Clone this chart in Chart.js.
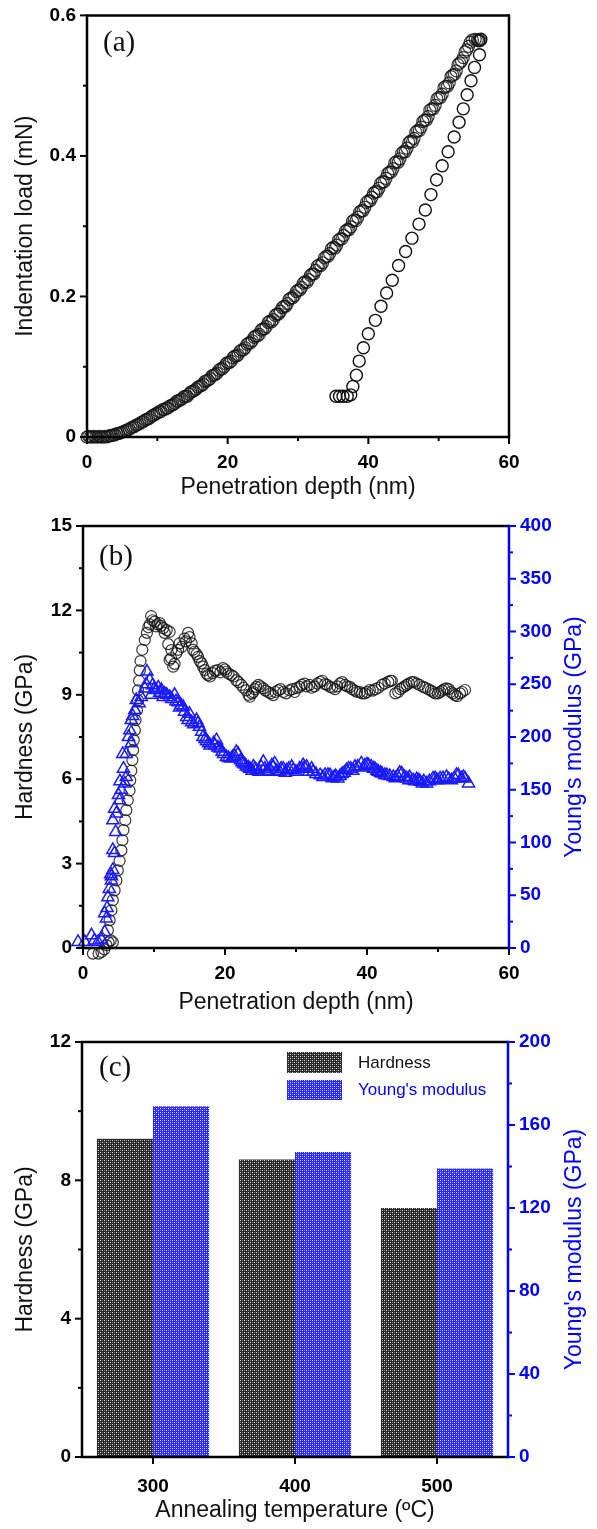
<!DOCTYPE html>
<html><head><meta charset="utf-8">
<script src="https://cdn.jsdelivr.net/npm/chart.js@4.4.1/dist/chart.umd.min.js"></script>
<style>
body{margin:0;background:#fff;width:597px;height:1529px;position:relative;overflow:hidden}
canvas{position:absolute;left:0}
</style></head>
<body>
<canvas id="ca" width="597" height="505" style="top:0px;width:597px;height:505px"></canvas>
<canvas id="cb" width="597" height="515" style="top:505px;width:597px;height:515px"></canvas>
<canvas id="cc" width="597" height="509" style="top:1020px;width:597px;height:509px"></canvas>
<script>
// ---------- Panel (a): load-depth ----------
const loadX = [0,0.25,0.5,0.75,1,1.25,1.5,1.75,2,2.25,2.5,2.75,3,3.25,3.5,3.75,4,4.25,4.5,4.75,5,5.25,5.5,5.75,6,6.25,6.5,6.75,7,7.25,7.5,7.75,8,8.25,8.5,8.75,9,9.25,9.5,9.75,
10,10.25,10.5,10.75,11,11.25,11.5,11.75,12,12.25,12.5,12.75,13,13.25,13.5,13.75,14,14.25,14.5,14.75,
15,15.25,15.5,15.75,16,16.25,16.5,16.75,17,17.25,17.5,17.75,18,18.25,18.5,18.75,19,19.25,19.5,19.75,
20,20.25,20.5,20.75,21,21.25,21.5,21.75,22,22.25,22.5,22.75,23,23.25,23.5,23.75,24,24.25,24.5,24.75,
25,25.25,25.5,25.75,26,26.25,26.5,26.75,27,27.25,27.5,27.75,28,28.25,28.5,28.75,29,29.25,29.5,29.75,
30,30.25,30.5,30.75,31,31.25,31.5,31.75,32,32.25,32.5,32.75,33,33.25,33.5,33.75,34,34.25,34.5,34.75,
35,35.25,35.5,35.75,36,36.25,36.5,36.75,37,37.25,37.5,37.75,38,38.25,38.5,38.75,39,39.25,39.5,39.75,
40,40.25,40.5,40.75,41,41.25,41.5,41.75,42,42.25,42.5,42.75,43,43.25,43.5,43.75,44,44.25,44.5,44.75,
45,45.25,45.5,45.75,46,46.25,46.5,46.75,47,47.25,47.5,47.75,48,48.25,48.5,48.75,49,49.25,49.5,49.75,
50,50.25,50.5,50.75,51,51.25,51.5,51.75,52,52.25,52.5,52.75,53,53.25,53.5,53.75,54,54.25,54.5,
54.8,55.2,55.5,55.9];
const loadY = [0.000,0.001,0.000,0.000,0.001,0.000,0.000,0.001,0.000,0.000,0.001,0.000,0.001,0.002,0.002,0.003,0.003,0.005,0.005,0.006,0.007,0.008,0.009,0.010,0.011,0.013,0.014,0.015,0.017,0.018,0.019,0.021,0.022,0.024,0.025,0.026,0.028,0.030,0.031,0.033,
0.034,0.036,0.036,0.039,0.039,0.041,0.041,0.044,0.045,0.046,0.048,0.051,0.051,0.053,0.054,0.057,0.058,0.058,0.061,0.064,
0.065,0.066,0.068,0.071,0.072,0.073,0.075,0.079,0.080,0.081,0.083,0.087,0.088,0.089,0.091,0.095,0.097,0.097,0.100,0.104,
0.106,0.106,0.108,0.113,0.115,0.115,0.117,0.122,0.124,0.124,0.127,0.132,0.134,0.134,0.137,0.142,0.144,0.144,0.146,0.152,
0.154,0.154,0.157,0.163,0.165,0.164,0.167,0.173,0.175,0.175,0.179,0.184,0.186,0.186,0.190,0.196,0.198,0.198,0.201,0.207,
0.209,0.209,0.213,0.219,0.221,0.220,0.224,0.230,0.232,0.232,0.237,0.243,0.245,0.244,0.248,0.255,0.257,0.257,0.261,0.268,
0.270,0.269,0.273,0.280,0.282,0.282,0.287,0.293,0.295,0.295,0.299,0.307,0.309,0.308,0.313,0.320,0.322,0.322,0.327,0.334,
0.336,0.336,0.341,0.347,0.349,0.349,0.354,0.361,0.363,0.363,0.368,0.375,0.377,0.377,0.382,0.390,0.392,0.391,0.396,0.404,
0.406,0.406,0.411,0.419,0.421,0.420,0.425,0.434,0.436,0.436,0.441,0.449,0.451,0.451,0.456,0.465,0.467,0.467,0.472,0.481,
0.483,0.483,0.488,0.497,0.499,0.499,0.504,0.513,0.515,0.516,0.521,0.530,0.532,0.535,0.540,0.548,0.551,0.556,0.562,
0.565,0.566,0.565,0.564];
const unloadX = [56.0,55.7,55.8,55.1,54.6,54.05,53.5,52.9,52.2,51.35,50.5,49.7,48.9,48.1,47.2,46.2,45.3,44.3,43.4,42.6,41.8,41.0,40.0,39.3,38.7,38.3,37.8,37.5,37.0,36.4,35.9,35.4];
const unloadY = [0.566,0.564,0.544,0.526,0.507,0.487,0.467,0.448,0.427,0.406,0.386,0.366,0.345,0.323,0.303,0.283,0.264,0.244,0.223,0.205,0.186,0.166,0.147,0.127,0.108,0.088,0.072,0.060,0.058,0.058,0.058,0.058];

// ---------- Panel (b): hardness & modulus vs depth ----------
const hardX = [1.4,1.8,2.2,2.6,3.0,3.3,3.6,3.9,4.2,3.5,3.75,4.0,4.2,4.45,4.7,4.9,5.15,5.4,5.55,5.7,5.95,6.1,6.3,6.55,6.65,6.8,6.95,7.05,7.15,7.3,7.4,7.6,7.75,7.75,7.9,8.0,8.1,8.35,8.7,9.0,9.4,9.6,10.1,10.3,10.8,11.3,11.8,12.2,12.45,12.2,12.7,13.15,13.6,14.3,14.8,15.3,15.7,16.2,16.7,17.15,17.6,18.3,19.0,19.7,20.2,20.9,21.6,22.3,23.0,23.5,24.0,24.4,24.7,25.4,26.1,26.8,27.5,28.2,29.1,30.1,30.5,31.2,31.9,32.6,33.4,34.1,34.8,35.5,36.2,36.9,37.6,38.3,39.0,39.7,40.4,41.2,42.1,43.0,43.5,44.4,45.0,45.6,46.3,47.0,47.9,48.6,49.3,50.0,50.6,51.2,51.8,52.4,53.1,53.8];
const hardY = [-0.2,-0.25,-0.2,-0.14,-0.05,0.1,0.2,0.27,0.2,0.63,0.99,1.34,1.7,2.05,2.4,2.76,3.1,3.47,3.83,4.19,4.54,4.9,5.25,5.6,5.96,6.3,6.68,7.03,7.39,7.74,8.1,8.45,8.8,9.16,9.5,9.87,10.2,10.6,10.95,11.2,11.5,11.8,11.6,11.43,11.55,11.37,11.3,11.24,10.59,10.24,10.0,10.48,10.83,11.0,11.2,10.83,10.53,10.35,10.12,9.88,9.7,9.77,9.88,9.95,9.82,9.7,9.52,9.35,9.16,8.93,9.1,9.28,9.35,9.23,9.1,8.99,9.16,9.1,9.16,9.24,9.28,9.4,9.35,9.3,9.46,9.38,9.28,9.2,9.4,9.35,9.28,9.15,9.1,9.05,9.17,9.2,9.35,9.46,9.5,9.1,9.25,9.35,9.45,9.4,9.28,9.2,9.1,9.05,9.15,9.23,9.1,8.99,9.05,9.17];
const hardX2 = [9.2,9.8,10.5,11.0,11.5,12.0,12.4,12.9,13.4,13.9,14.5,15.0,15.5,16.0,16.45,16.9,17.4,17.9,18.6,19.35,20.0,20.5,21.2,21.9,22.6,23.3,23.8,24.2,25.0,25.7,26.4,27.1,27.8,28.6,29.5,29.8,30.8,31.5,32.2,33.0,33.7,34.4,35.1,35.8,36.5,37.2,37.9,38.6,39.3,40.0,40.8,41.6,42.5,43.3,44.0,44.7,45.3,45.9,46.6,47.4,48.2,49.0,49.6,50.3,50.9,51.5,52.1,52.7,53.4];
const hardY2 = [11.4,11.65,11.5,11.45,11.2,10.8,10.3,10.1,10.6,10.7,10.9,11.05,10.6,10.45,10.2,10.0,9.75,9.65,9.85,9.8,9.9,9.75,9.65,9.45,9.25,9.0,9.05,9.2,9.3,9.15,9.05,9.1,9.2,9.05,9.2,9.1,9.35,9.3,9.25,9.4,9.5,9.35,9.25,9.3,9.45,9.3,9.2,9.1,9.05,9.1,9.15,9.25,9.4,9.5,9.05,9.2,9.3,9.4,9.45,9.35,9.25,9.15,9.05,9.1,9.2,9.2,9.05,8.95,9.1];
const modX = [-0.7,0.25,1.2,1.6,2.1,2.6,3.05,3.3,3.05,3.5,3.7,4.0,4.2,4.0,4.45,4.2,4.2,4.45,4.7,5.15,5.4,5.2,5.9,6.1,5.6,6.1,6.8,6.6,6.8,7.3,7.5,8.2,8.7,9.0,9.4,9.8,10.3,10.6,11.05,11.5,12.2,12.9,13.4,13.8,14.1,14.6,15.0,15.3,16.0,16.4,16.9,17.4,17.9,18.4,18.8,19.3,19.8,20.2,20.9,21.35,21.85,22.2,22.6,23.0,23.5,24.0,24.4,25.1,25.4,25.85,26.3,26.8,27.0,27.7,28.2,28.7,29.4,29.6,30.5,31.0,31.5,32.2,32.4,33.4,34.1,34.8,35.4,35.9,36.5,37.1,37.7,38.3,39.2,39.7,40.2,40.6,41.1,41.6,42.1,42.8,43.7,44.3,44.9,45.6,46.0,46.5,47.0,47.5,48.0,48.4,49.3,49.8,50.3,51.2,51.9,52.85,53.3,53.8,54.3];
const modY = [5.7,5.7,12,7,5.7,8,15,28,33,48,56,64,74,68,90,93,121,132,127.5,140,150,158,156,162,184,184,194,206.5,216,225.5,235,238,246,262,254,249,244.5,247,244.5,241,238,240,233,230,228.6,219,222,214,216,209.6,200,196,192,194,197,189,184,181,179.7,182,184,178,175,172,170,172,168.6,171.7,176.5,167,170,171.7,175,167,170,168.6,171.7,168.6,170,173.3,171.7,170,167,163.8,164,163.8,162,160.7,165,168.6,170,171.7,175,173,173.3,172,170,167,165.4,163.8,162.2,163,165.4,160.7,162,159,160,157.5,158,156,160.7,159,160.7,162.2,159,163.8,161,160.7,156];
const modX2 = [3.4,3.9,4.6,5.0,5.7,6.4,7.0,7.9,8.9,9.6,10.0,10.8,11.3,11.8,12.5,13.1,13.6,14.3,14.8,15.6,16.2,16.7,17.2,17.7,18.6,19.0,19.6,20.5,21.1,21.6,22.4,22.8,23.3,23.8,24.2,24.8,25.6,26.0,26.6,27.3,27.9,28.5,29.0,30.0,30.8,31.2,31.8,32.8,33.8,34.5,35.1,35.6,36.2,36.8,37.4,38.0,38.7,39.5,40.0,40.9,41.4,41.9,42.5,43.2,44.0,44.6,45.3,45.9,46.8,47.3,47.8,48.8,49.6,50.0,50.7,51.5,52.3,52.6,53.6];
const modY2 = [38,70,110,145,170,200,220,232,250,240,245,242,238,240,236,234,228,224,216,212,213,205,198,194,192,190,186,180,181,186,176,174,171,168,170,167,170,168,173,168,170,166,170,167,170,171,167,165,162,164,161,163,163,166,170,168,172,171,174,170,168,166,164,163,161,166,162,159,158,159,156,158,161,159,161,160,161,164,162];

// ---------- Panel (c): bars ----------
const temps = ['300','400','500'];
const barHardness = [9.2, 8.6, 7.2];
const barModulus = [169, 147, 139];

Chart.defaults.font.family = "'Liberation Sans', Arial, sans-serif";
Chart.defaults.color = '#000';
const BLUE = '#0000ff';
const tickFont = {size: 19, weight: 'bold'};
const titleFont = {size: 23, weight: 'normal'};
const fixW = w => s => { s.width = w; };
const fixH = h => s => { s.height = h; };
const lab = step => v => (Math.abs(v / step - Math.round(v / step)) < 1e-6 ? String(+(+v).toFixed(2)) : '');
const pts = (xs, ys) => xs.map((x, i) => ({x, y: ys[i]}));
const noGrid = {display: true, drawOnChartArea: false, drawTicks: true, tickLength: 7, color: 'rgba(0,0,0,0)'};

const decor = {
  id: 'decor',
  afterDraw(chart, args, o) {
    const ctx = chart.ctx, a = chart.chartArea;
    ctx.save();
    Object.values(chart.scales).forEach(s => {
      ctx.strokeStyle = s.options.ticks.color || '#000';
      ctx.lineWidth = 2;
      s.ticks.forEach((t, i) => {
        const major = t.label !== '' && t.label !== undefined;
        const len = major ? 7 : 4;
        const p = s.getPixelForTick(i);
        ctx.beginPath();
        if (s.position === 'bottom') { ctx.moveTo(p, a.bottom); ctx.lineTo(p, a.bottom + len); }
        else if (s.position === 'left') { ctx.moveTo(a.left, p); ctx.lineTo(a.left - len, p); }
        else { ctx.moveTo(a.right, p); ctx.lineTo(a.right + len, p); }
        ctx.stroke();
      });
    });
    ctx.lineWidth = 2.5;
    ctx.strokeStyle = '#000';
    ctx.beginPath();
    ctx.moveTo(a.right, a.bottom); ctx.lineTo(a.left, a.bottom); ctx.lineTo(a.left, a.top); ctx.lineTo(a.right, a.top);
    ctx.stroke();
    ctx.strokeStyle = o.rightColor;
    ctx.beginPath(); ctx.moveTo(a.right, a.top - 1.25); ctx.lineTo(a.right, a.bottom + 1.25); ctx.stroke();
    ctx.fillStyle = '#111';
    ctx.font = "29px 'Liberation Serif', 'Times New Roman', serif";
    ctx.textAlign = 'left'; ctx.textBaseline = 'middle';
    ctx.fillText(o.label, a.left + o.lx, a.top + o.ly);
    if (o.rightTitle) {
      ctx.save();
      ctx.translate(o.rtX, (a.top + a.bottom) / 2);
      ctx.rotate(-Math.PI / 2);
      ctx.fillStyle = BLUE;
      ctx.font = "23px 'Liberation Sans', Arial, sans-serif";
      ctx.textAlign = 'center'; ctx.textBaseline = 'middle';
      ctx.fillText(o.rightTitle, 0, 0);
      ctx.restore();
    }
    if (o.legend) {
      const L = o.legend;
      chart.data.datasets.forEach((d, i) => {
        const r = L.rows[i];
        const x0 = a.right + L.dx;
        ctx.fillStyle = d.backgroundColor;
        ctx.fillRect(x0, a.top + r[0], L.sw, r[1]);
        ctx.fillStyle = L.colors[i];
        ctx.font = "17px 'Liberation Sans', Arial, sans-serif";
        ctx.textAlign = 'left'; ctx.textBaseline = 'middle';
        ctx.fillText(d.label, x0 + L.sw + L.tx, a.top + r[0] + r[1] / 2 + 0.5);
      });
    }
    ctx.restore();
  }
};

const baseOpts = {responsive: false, animation: false, events: []};

new Chart(document.getElementById('ca'), {
  type: 'scatter',
  data: {datasets: [
    {label: 'loading', data: pts(loadX, loadY), pointStyle: 'circle', pointRadius: 6, pointBorderWidth: 1.2, borderColor: 'rgba(20,20,20,0.85)', backgroundColor: 'rgba(0,0,0,0)', showLine: false, clip: false},
    {label: 'unloading', data: pts(unloadX, unloadY), pointStyle: 'circle', pointRadius: 6, pointBorderWidth: 1.4, borderColor: '#111', backgroundColor: 'rgba(0,0,0,0)', showLine: false, clip: false}
  ]},
  options: Object.assign({}, baseOpts, {
    layout: {padding: {left: 0, top: 15, right: 88, bottom: 0}},
    plugins: {legend: {display: false}, tooltip: {enabled: false}, decor: {rightColor: '#000', label: '(a)', lx: 16, ly: 28}},
    scales: {
      x: {type: 'linear', position: 'bottom', min: 0, max: 60, afterFit: fixH(68), border: {display: false}, grid: noGrid,
          ticks: {stepSize: 10, autoSkip: false, maxRotation: 0, padding: 7, font: tickFont, color: '#000', callback: lab(20)},
          title: {display: true, text: 'Penetration depth (nm)', font: titleFont, color: '#111', padding: {top: 0, bottom: 4}}},
      y: {type: 'linear', position: 'left', min: 0, max: 0.6, afterFit: fixW(87), border: {display: false}, grid: noGrid,
          ticks: {stepSize: 0.1, autoSkip: false, padding: 4, font: tickFont, color: '#000', callback: lab(0.2)},
          title: {display: true, text: 'Indentation load (mN)', font: titleFont, color: '#111', padding: {top: 12, bottom: 0}}}
    }
  }),
  plugins: [decor]
});

new Chart(document.getElementById('cb'), {
  type: 'scatter',
  data: {datasets: [
    {label: 'Hardness', data: pts(hardX, hardY).concat(pts(hardX2, hardY2)), yAxisID: 'y', order: 1, pointStyle: 'circle', pointRadius: 5.5, pointBorderWidth: 1.2, borderColor: 'rgba(20,20,20,0.85)', backgroundColor: 'rgba(0,0,0,0)', showLine: false, clip: false},
    {label: "Young's modulus", data: pts(modX, modY).concat(pts(modX2, modY2)), yAxisID: 'y2', order: 0, pointStyle: 'triangle', pointRadius: 7, pointBorderWidth: 1.5, borderColor: '#1a1aff', backgroundColor: 'rgba(0,0,0,0)', showLine: false, clip: false}
  ]},
  options: Object.assign({}, baseOpts, {
    layout: {padding: {left: 0, top: 21, right: 0, bottom: 0}},
    plugins: {legend: {display: false}, tooltip: {enabled: false}, decor: {rightColor: BLUE, label: '(b)', lx: 16, ly: 31, rightTitle: "Young's modulus (GPa)", rtX: 575}},
    scales: {
      x: {type: 'linear', position: 'bottom', min: 0, max: 60, afterFit: fixH(72), border: {display: false}, grid: noGrid,
          ticks: {stepSize: 10, autoSkip: false, maxRotation: 0, padding: 7, font: tickFont, color: '#000', callback: lab(20)},
          title: {display: true, text: 'Penetration depth (nm)', font: titleFont, color: '#111', padding: {top: 0, bottom: 4}}},
      y: {type: 'linear', position: 'left', min: 0, max: 15, afterFit: fixW(83), border: {display: false}, grid: noGrid,
          ticks: {stepSize: 1.5, autoSkip: false, padding: 4, font: tickFont, color: '#000', callback: lab(3)},
          title: {display: true, text: 'Hardness (GPa)', font: titleFont, color: '#111', padding: {top: 12, bottom: 0}}},
      y2: {type: 'linear', position: 'right', min: 0, max: 400, afterFit: fixW(88), border: {display: false}, grid: noGrid,
          ticks: {stepSize: 25, autoSkip: false, padding: 4, font: tickFont, color: BLUE, callback: lab(50)},
          title: {display: false}}
    }
  }),
  plugins: [decor]
});

const cctx = document.getElementById('cc').getContext('2d');
function makePattern(bg, fg, dots, mid, mids) {
  const c = document.createElement('canvas'); c.width = 4; c.height = 4;
  const x = c.getContext('2d');
  x.fillStyle = bg; x.fillRect(0, 0, 4, 4);
  x.fillStyle = fg; dots.forEach(([i, j]) => x.fillRect(i, j, 1, 1));
  x.fillStyle = mid; mids.forEach(([i, j]) => x.fillRect(i, j, 1, 1));
  return cctx.createPattern(c, 'repeat');
}
const patHard = makePattern('#2a2a2a', '#dcdcdc', [[0,0],[2,2]], '#7a7a7a', [[2,0],[0,2]]);
const patMod = makePattern('#2828ff', '#f0f0ff', [[0,0],[2,2]], '#8686ff', [[2,0],[0,2]]);

new Chart(cctx, {
  type: 'bar',
  data: {labels: temps, datasets: [
    {label: 'Hardness', data: barHardness, yAxisID: 'y', backgroundColor: patHard, borderWidth: 0, categoryPercentage: 0.79, barPercentage: 1.0},
    {label: "Young's modulus", data: barModulus, yAxisID: 'y2', backgroundColor: patMod, borderWidth: 0, categoryPercentage: 0.79, barPercentage: 1.0}
  ]},
  options: Object.assign({}, baseOpts, {
    layout: {padding: {left: 0, top: 22, right: 0, bottom: 0}},
    plugins: {legend: {display: false}, tooltip: {enabled: false},
      decor: {rightColor: BLUE, label: '(c)', lx: 17, ly: 26, rightTitle: "Young's modulus (GPa)", rtX: 575,
        legend: {dx: -221, sw: 55, tx: 16, rows: [[10, 21], [38, 20]], colors: ['#111', BLUE]}}},
    scales: {
      x: {type: 'category', position: 'bottom', offset: true, afterFit: fixH(72), border: {display: false},
          grid: {display: true, offset: false, drawOnChartArea: false, drawTicks: true, tickLength: 7, color: 'rgba(0,0,0,0)'},
          ticks: {autoSkip: false, maxRotation: 0, padding: 11, font: tickFont, color: '#000'},
          title: {display: true, text: 'Annealing temperature (ºC)', font: titleFont, color: '#111', padding: {top: 0, bottom: 5}}},
      y: {type: 'linear', position: 'left', min: 0, max: 12, afterFit: fixW(82), border: {display: false}, grid: noGrid,
          ticks: {stepSize: 2, autoSkip: false, padding: 4, font: tickFont, color: '#000', callback: lab(4)},
          title: {display: true, text: 'Hardness (GPa)', font: titleFont, color: '#111', padding: {top: 12, bottom: 0}}},
      y2: {type: 'linear', position: 'right', min: 0, max: 200, afterFit: fixW(89), border: {display: false}, grid: noGrid,
          ticks: {stepSize: 20, autoSkip: false, padding: 4, font: tickFont, color: BLUE, callback: lab(40)},
          title: {display: false}}
    }
  }),
  plugins: [decor]
});
</script>
</body></html>
